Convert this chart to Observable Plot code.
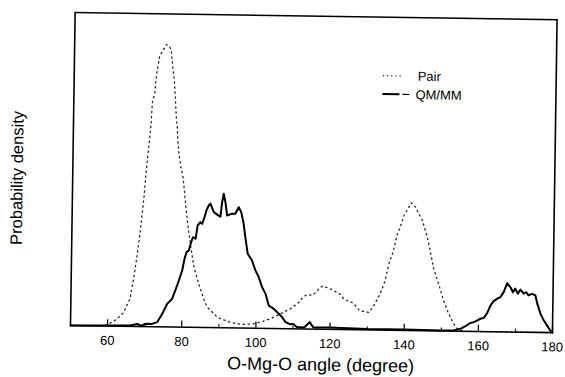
<!DOCTYPE html>
<html><head><meta charset="utf-8">
<script src="https://cdn.jsdelivr.net/npm/d3@7"></script>
<script src="https://cdn.jsdelivr.net/npm/@observablehq/plot@0.6"></script>
<style>
html,body{margin:0;padding:0;background:#fff;overflow:hidden}
#chart svg{display:block;transform:rotate(0.85deg);transform-origin:70px 325px;}
</style></head><body><div id="chart"></div>
<script>
// ---- data (angle in degrees, density in % of axis height) ----
const pairAngle = [50,58,60,61.7,63.0,64.3,65.9,66.9,67.5,68.1,68.5,68.9,69.3,69.7,70.1,70.6,70.9,71.2,71.8,72.2,73.0,74.8,75.6,76.1,76.5,77.0,77.3,77.7,78.0,78.2,78.6,79.2,79.8,80.5,81.2,82.0,83.0,84.4,85.8,86.8,87.7,89.5,90.4,92.5,94.9,97.0,99.4,101.5,103.9,107.5,109.7,111.5,112.6,113.7,114.9,116.2,116.7,117.8,119.1,120.2,122.7,123.6,125.0,126.1,127.9,129.2,130.3,131.4,132.7,133.3,134.3,134.7,135.8,136.7,137.3,137.9,138.4,139.6,140.3,141.4,142.6,143.4,144.4,145.6,146.3,147.7,149.1,150.5,151.9,153.3,154.5,156,180];
const pairDensity = [0,0,0.5,1.6,2.9,4.5,8.8,15.7,21.1,26.9,31.3,36.1,41.3,48.0,53.8,59.8,64.3,71.7,74.6,80.6,86.6,90.2,89.6,88.1,83.5,79.0,74.6,67.1,63.9,59.4,55.0,50.8,47.7,39.9,33.1,26.7,19.6,13.9,9.2,6.5,5.5,3.4,2.9,2.0,1.3,1.2,1.4,2.1,3.1,5.3,6.7,8.5,10.2,11.0,10.8,11.8,12.8,13.8,13.3,12.8,11.2,9.8,9.0,8.6,6.1,5.9,5.6,7.0,10.0,11.4,14.5,16.1,22.1,25.0,28.2,31.3,32.5,37.1,38.3,40.8,39.5,37.5,35.5,31.0,27.8,19.9,15.1,9.8,5.6,2.4,0.5,0,0];

const qmmmAngle = [50,66,68,69,70.5,72.0,73.4,74.7,76.0,77.3,78.6,79.9,80.5,81.0,81.6,82.2,82.7,83.4,83.9,84.6,85.1,85.7,86.2,86.8,87.25,88.2,89.5,90.0,90.4,90.8,91.3,91.8,93.15,94.0,94.9,95.6,96.3,96.8,97.5,98.7,99.65,100.6,101.5,102.45,103.4,104.75,105.7,107.0,108.0,109.3,110,111,113,114.5,115.5,120,130,140,150,153.5,155.2,156.5,157.8,158.7,159.6,160.5,161.4,162.3,163.2,164.0,165.0,165.8,166.7,167.6,168.5,169.2,169.8,170.5,171.2,172.1,172.8,173.4,174.35,175.25,175.8,176.7,177.6,178.5,179.4,180];
const qmmmDensity = [0,0.3,0.8,0.3,0.9,0.9,1.5,4.2,7.4,9.0,13.3,18.1,21.9,24.0,24.5,27.2,28.8,28.3,32.6,33.6,33.1,35.2,37.4,39.0,39.6,36.9,35.8,35.5,40.1,42.8,40.1,35.9,36.5,36.5,38.6,37.0,33.3,29.0,23.8,21.6,18.5,16.3,13.2,11.1,7.3,6.3,5.2,3.7,2.1,1.4,1.6,0.6,0.5,2.2,0.5,0.6,0.3,0.3,0.2,0.3,0.8,1.7,2.7,3.0,3.5,4.1,4.4,5.9,8.4,9.8,10.6,11.1,12.7,15.6,14.3,12.7,13.9,12.3,13.6,12.3,12.8,11.8,12.3,11.8,9.2,6.0,3.9,2.3,0.7,0];

const xTicks = [60,80,100,120,140,160,180];
const xMinorTicks = [70,90,110,130,150,170];
const seriesNames = ["Pair","QM/MM"];
const xLabel = "O-Mg-O angle (degree)";
const yLabel = "Probability density";

const pair = pairAngle.map((a,i)=>({angle:a, density:pairDensity[i]}));
const qmmm = qmmmAngle.map((a,i)=>({angle:a, density:qmmmDensity[i]}));

const font = "'Liberation Sans', Arial, Helvetica, sans-serif";

const legendMark = () => {
  const g = d3.create("svg:g").attr("font-family", font).attr("font-size", 13)
    .attr("fill","black").attr("text-anchor","start");
  g.append("line").attr("x1",379).attr("x2",398).attr("y1",71).attr("y2",71)
    .attr("stroke","#222").attr("stroke-width",1.2).attr("stroke-dasharray","1.2,3");
  g.append("text").attr("x",414).attr("y",71).attr("dy","0.35em").text(seriesNames[0]);
  g.append("line").attr("x1",379).attr("x2",396).attr("y1",89.5).attr("y2",89.5)
    .attr("stroke","black").attr("stroke-width",2);
  g.append("line").attr("x1",399).attr("x2",406).attr("y1",89.5).attr("y2",89.5)
    .attr("stroke","black").attr("stroke-width",1.2);
  g.append("text").attr("x",412).attr("y",89.5).attr("dy","0.35em").text(seriesNames[1]);
  return g.node();
};

const chart = Plot.plot({
  width: 565, height: 377,
  marginLeft: 70, marginRight: 13, marginTop: 12, marginBottom: 52,
  style: {fontFamily: font, background: "white", color: "black", fontSize: "13px"},
  x: {domain: [50,180]},
  y: {domain: [0,100], axis: null},
  marks: [
    Plot.axisX({ticks: xTicks, tickSize: 0, tickPadding: 9.5, label: null, fontSize: 13}),
    Plot.ruleX(xTicks, {x: d=>d, y1: 0, y2: 2, stroke: "black", strokeWidth: 1.2}),
    Plot.ruleX(xMinorTicks, {x: d=>d, y1: 0, y2: 1, stroke: "black", strokeWidth: 1}),
    Plot.line(pair, {x: "angle", y: "density", stroke: "#222", strokeWidth: 1.3, strokeDasharray: "1.3,3.7"}),
    Plot.line(qmmm, {x: "angle", y: "density", stroke: "black", strokeWidth: 2, strokeLinejoin: "round"}),
    Plot.frame({stroke: "black", strokeWidth: 1.6}),
    legendMark,
    Plot.text([xLabel], {text: d=>d, frameAnchor: "bottom", textAnchor: "middle", dx: 9.7, dy: 41.5, lineAnchor: "bottom", fontSize: 18, fill: "black"}),
    Plot.text([yLabel], {text: d=>d, frameAnchor: "left", textAnchor: "middle", rotate: -90, dx: -50, dy: 9.7, lineAnchor: "bottom", fontSize: 16.5, fill: "black"})
  ]
});
document.getElementById("chart").appendChild(chart);
</script></body></html>
